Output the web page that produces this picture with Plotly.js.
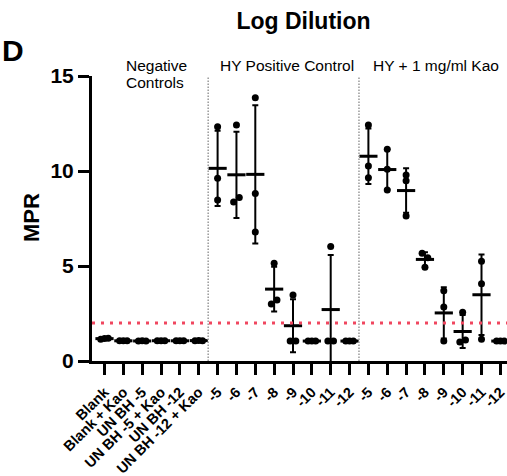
<!DOCTYPE html>
<html><head><meta charset="utf-8">
<script src="https://cdn.plot.ly/plotly-3.0.1.min.js"></script>
<style>html,body{margin:0;padding:0;background:#fff;}#chart{width:507px;height:476px;}</style>
</head><body><div id="chart"></div>
<script>
// ---- data ----
const negLabels = ['Blank', 'Blank + Kao', 'UN BH -5', 'UN BH -5 + Kao', 'UN BH -12', 'UN BH -12 + Kao'];
const dilLabels = ['-5', '-6', '-7', '-8', '-9', '-10', '-11', '-12'];
const negValues = [
  [1.15, 1.18, 1.2],
  [1.06, 1.07, 1.06],
  [1.05, 1.06, 1.05],
  [1.07, 1.06, 1.07],
  [1.06, 1.07, 1.06],
  [1.07, 1.08, 1.07]
];
const hyValues = [
  [12.33, 9.62, 8.47],
  [12.42, 8.37, 8.61],
  [13.86, 8.82, 6.79],
  [5.14, 3.0, 3.21],
  [3.47, 1.05, 1.05],
  [1.05, 1.05, 1.05],
  [6.02, 1.05, 1.05],
  [1.05, 1.05, 1.05]
];
const kaoValues = [
  [12.42, 10.26, 9.65],
  [11.14, 10.09, 9.0],
  [9.79, 9.49, 7.63],
  [5.67, 5.44, 4.93],
  [3.7, 2.84, 1.05],
  [2.56, 1.0, 1.1],
  [5.25, 4.07, 1.14],
  [1.05, 1.05, 1.05]
];
const groupTitles = ['HY Positive Control', 'HY + 1 mg/ml Kao'];
const negTitleLines = ['Negative', 'Controls'];
const chartTitle = 'Log Dilution';
const panelLetter = 'D';
const yTitle = 'MPR';
const yTicks = [0, 5, 10, 15];
const threshold = 2;

// ---- derived ----
const labels = negLabels.concat(dilLabels, dilLabels);
const groups = negValues.concat(hyValues, kaoValues);
const idx = labels.map((_, i) => i);
const mean = a => a.reduce((s, v) => s + v, 0) / a.length;
const sd = a => { const m = mean(a); return Math.sqrt(a.reduce((s, v) => s + (v - m) * (v - m), 0) / (a.length - 1)); };
const means = groups.map(mean);
const sds = groups.map(sd);

// spread overlapping points horizontally (simple beeswarm)
const px = [], py = [];
groups.forEach((vals, gi) => {
  const assigned = new Array(vals.length).fill(false);
  vals.forEach((v, i) => {
    if (assigned[i]) return;
    const cluster = [i];
    assigned[i] = true;
    let grown = true;
    while (grown) {
      grown = false;
      vals.forEach((w, j) => {
        if (!assigned[j] && cluster.some(k => Math.abs(vals[k] - w) < 0.27)) {
          cluster.push(j); assigned[j] = true; grown = true;
        }
      });
    }
    cluster.sort((a, b) => a - b);
    const n = cluster.length;
    const step = n === 2 ? 0.3 : 0.2;
    cluster.forEach((j, k) => {
      px.push(gi + (k - (n - 1) / 2) * step);
      py.push(vals[j]);
    });
  });
});

const FONT = 'Arial, "Liberation Sans", sans-serif';
const W = 507, H = 476, ML = 92, MR = 0, MT = 76, MB = 115;
const pw = W - ML - MR, ph = H - MT - MB;
const X0 = 104.5, DX = 18.85;   // pixel of first category, pixels per category
const xr = [(ML - X0) / DX, (W - X0) / DX];
const paperX = p => (p - ML) / pw;
const paperY = p => (H - MB - p) / ph;
const idxX = p => (p - X0) / DX;

const traces = [
  {
    x: idx, y: means, type: 'scatter', mode: 'markers',
    marker: {size: 1, color: 'rgba(0,0,0,0)'},
    error_y: {type: 'data', array: sds, visible: true, color: '#000', thickness: 2, width: 3},
    hoverinfo: 'skip', showlegend: false
  },
  {
    x: idx, y: means, type: 'scatter', mode: 'markers',
    marker: {symbol: 'line-ew', size: 13, color: '#000', line: {width: 3, color: '#000'}},
    showlegend: false
  },
  {
    x: px, y: py, type: 'scatter', mode: 'markers',
    marker: {size: 7, color: '#000'},
    showlegend: false
  }
];

const nNeg = negLabels.length, nDil = dilLabels.length;
const sep1 = nNeg - 0.5, sep2 = nNeg + nDil - 0.5;

const layout = {
  width: W, height: H,
  margin: {l: ML, r: MR, t: MT, b: MB, pad: 0},
  paper_bgcolor: '#fff', plot_bgcolor: '#fff',
  font: {family: FONT, color: '#000'},
  title: {
    text: chartTitle, font: {family: FONT, size: 23, weight: 700, color: '#000'},
    xref: 'container', yref: 'container', x: 303.5 / W, y: 1 - 21 / H,
    xanchor: 'center', yanchor: 'middle'
  },
  xaxis: {
    range: xr, tickmode: 'array', tickvals: idx, ticktext: labels,
    tickangle: -45, ticks: 'outside', ticklen: 11, tickwidth: 3, tickcolor: '#000',
    ticklabeloverflow: 'allow', ticklabelstandoff: 3,
    showline: true, linewidth: 3, linecolor: '#000', showgrid: false, zeroline: false,
    tickfont: {family: FONT, size: 14.5, weight: 700, color: '#000'}, automargin: false, fixedrange: true
  },
  yaxis: {
    range: [0, 15], tickmode: 'array', tickvals: yTicks,
    ticks: 'outside', ticklen: 11, tickwidth: 3, tickcolor: '#000',
    showline: true, linewidth: 3, linecolor: '#000', showgrid: false, zeroline: false,
    tickfont: {family: FONT, size: 21, weight: 700, color: '#000'}, automargin: false, fixedrange: true
  },
  shapes: [
    {type: 'line', xref: 'paper', yref: 'y', x0: 0, x1: 1, y0: threshold, y1: threshold,
     line: {color: 'rgb(240,70,95)', width: 3, dash: '3px,6px'}},
    {type: 'line', xref: 'x', yref: 'y', x0: sep1, x1: sep1, y0: 0, y1: 15,
     line: {color: '#999', width: 1.5, dash: '1.5px,1.5px'}},
    {type: 'line', xref: 'x', yref: 'y', x0: sep2, x1: sep2, y0: 0, y1: 15,
     line: {color: '#999', width: 1.5, dash: '1.5px,1.5px'}}
  ],
  annotations: [
    {text: panelLetter, xref: 'paper', yref: 'paper', x: paperX(0), y: paperY(51),
     xanchor: 'left', yanchor: 'middle', showarrow: false,
     font: {family: FONT, size: 30, weight: 700, color: '#000'}},
    {text: yTitle, xref: 'paper', yref: 'paper', x: paperX(31), y: paperY(217),
     xanchor: 'center', yanchor: 'middle', textangle: -90, showarrow: false,
     font: {family: FONT, size: 22, weight: 700, color: '#000'}},
    {text: negTitleLines[0], xref: 'paper', yref: 'paper', x: paperX(124), y: paperY(66),
     xanchor: 'left', yanchor: 'middle', showarrow: false,
     font: {family: FONT, size: 15.5, color: '#000'}},
    {text: negTitleLines[1], xref: 'paper', yref: 'paper', x: paperX(124), y: paperY(83),
     xanchor: 'left', yanchor: 'middle', showarrow: false,
     font: {family: FONT, size: 15.5, color: '#000'}},
    {text: groupTitles[0], xref: 'paper', yref: 'paper', x: paperX(286.5), y: paperY(66),
     xanchor: 'center', yanchor: 'middle', showarrow: false,
     font: {family: FONT, size: 15.5, color: '#000'}},
    {text: groupTitles[1], xref: 'paper', yref: 'paper', x: paperX(436), y: paperY(66),
     xanchor: 'center', yanchor: 'middle', showarrow: false,
     font: {family: FONT, size: 15.5, color: '#000'}}
  ]
};

Plotly.newPlot('chart', traces, layout, {displayModeBar: false, staticPlot: true});
</script>
</body></html>
